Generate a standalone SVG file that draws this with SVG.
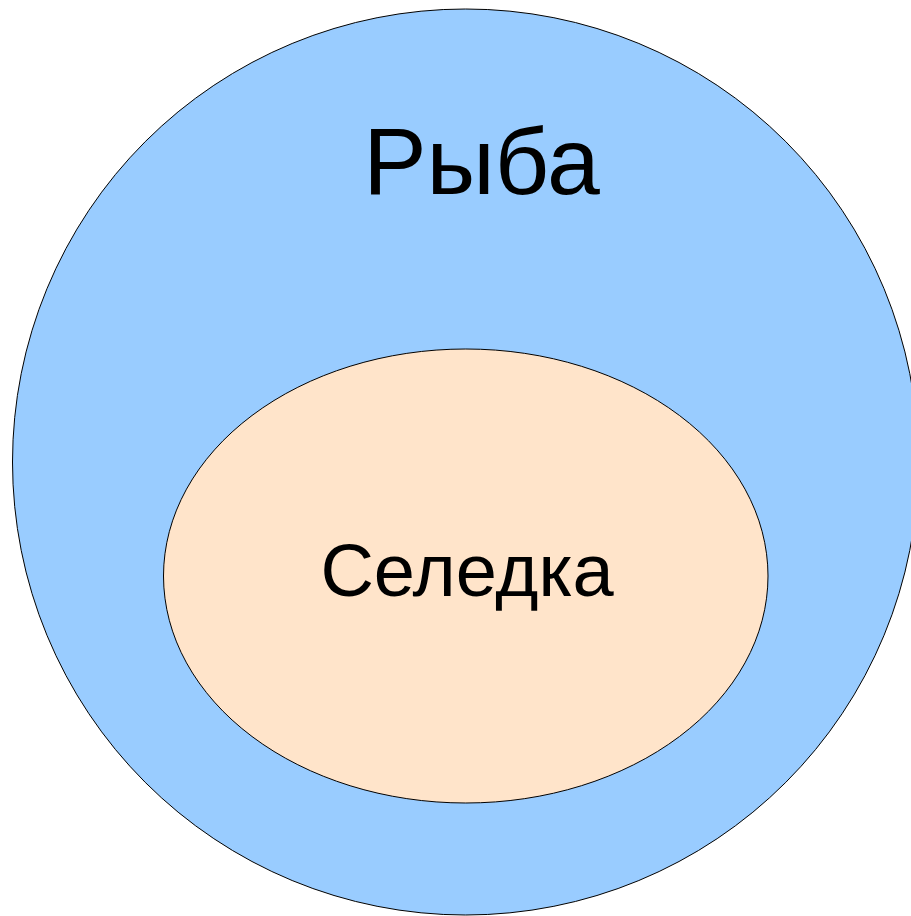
<svg xmlns="http://www.w3.org/2000/svg" width="911" height="916" viewBox="0 0 911 916">
  <style>
    .set { stroke: #000; stroke-width: 1; }
    .label { font-family: "Liberation Sans", Arial, sans-serif; fill: #000; text-anchor: middle; }
  </style>
  <rect width="911" height="916" fill="#fff"/>
  <g id="fish">
    <circle class="set" cx="465.5" cy="462" r="453" fill="#99ccff"/>
    <text class="label" x="481.5" y="194" font-size="95">Рыба</text>
  </g>
  <g id="herring">
    <ellipse class="set" cx="465.75" cy="576" rx="302.25" ry="227" fill="#ffe4ca"/>
    <text class="label" x="467" y="596" font-size="74">Селедка</text>
  </g>
  <g id="connectors"/>
</svg>
